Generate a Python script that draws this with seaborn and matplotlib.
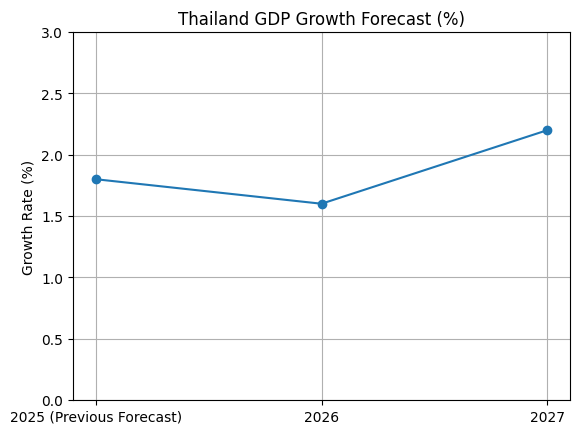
import matplotlib
matplotlib.use("Agg")
import matplotlib.pyplot as plt
import seaborn as sns
import pandas as pd

years = ["2025 (Previous Forecast)", "2026", "2027"]
growth = [1.8, 1.6, 2.2]

df = pd.DataFrame({"Year": years, "Growth": growth})

fig, ax = plt.subplots(figsize=(5.79, 4.35), dpi=100)
sns.lineplot(data=df, x="Year", y="Growth", marker="o", markersize=6,
             markeredgewidth=1, markeredgecolor="#1f77b4", color="#1f77b4",
             ax=ax, sort=False)
ax.set_title("Thailand GDP Growth Forecast (%)")
ax.set_xlabel("")
ax.set_ylabel("Growth Rate (%)")
ax.set_ylim(0, 3)
ax.grid(True)
fig.subplots_adjust(left=73/579, right=570/579, top=1-33/435, bottom=1-401/435)
fig.savefig("out.png", dpi=100)
